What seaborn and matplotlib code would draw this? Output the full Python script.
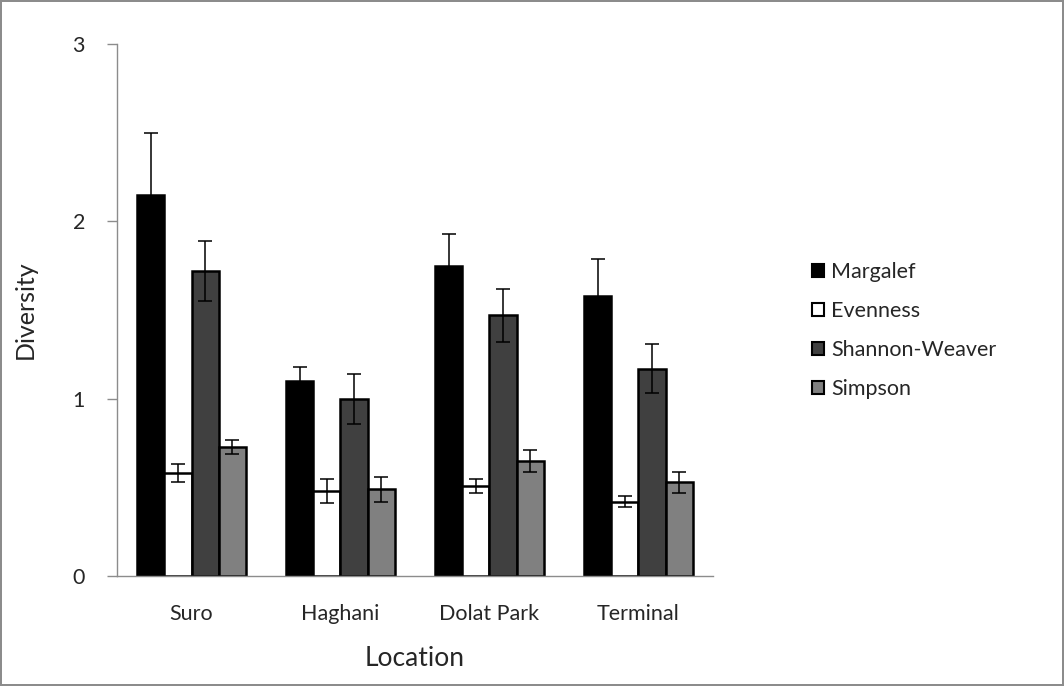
import pandas as pd
import numpy as np
import seaborn as sns
import matplotlib.pyplot as plt

locations = ['Suro', 'Haghani', 'Dolat Park', 'Terminal']
indices = ['Margalef', 'Evenness', 'Shannon-Weaver', 'Simpson']
margalef = [2.15, 1.10, 1.75, 1.58]
evenness = [0.58, 0.48, 0.51, 0.42]
shannon = [1.72, 1.00, 1.47, 1.17]
simpson = [0.73, 0.49, 0.65, 0.53]
margalef_err = [0.35, 0.08, 0.18, 0.21]
evenness_err = [0.05, 0.07, 0.04, 0.03]
shannon_err = [0.17, 0.14, 0.15, 0.14]
simpson_err = [0.04, 0.07, 0.06, 0.06]

colors = ['#000000', '#ffffff', '#404040', '#808080']

rows = []
for name, vals, errs in zip(indices, [margalef, evenness, shannon, simpson],
                            [margalef_err, evenness_err, shannon_err, simpson_err]):
    for loc, v, e in zip(locations, vals, errs):
        rows.append({'Location': loc, 'Index': name, 'Diversity': v, 'err': e})
df = pd.DataFrame(rows)

sns.set_style('white')
plt.rcParams['font.family'] = ['Lato', 'DejaVu Sans']

fig = plt.figure(figsize=(10.64, 6.86), dpi=100)
fig.patch.set_edgecolor('#8c8c8c')
fig.patch.set_linewidth(1.5)
ax = fig.add_axes([0.110, 0.160, 0.560, 0.776])

sns.barplot(data=df, x='Location', y='Diversity', hue='Index', order=locations,
            hue_order=indices, palette=colors, width=0.73, errorbar=None,
            edgecolor='black', linewidth=1.8, saturation=1, legend=False, ax=ax)

# error bars drawn by hand (seaborn only computes them from raw data)
for cont, name in zip(ax.containers, indices):
    sub = df[df['Index'] == name].set_index('Location').loc[locations]
    xs = [b.get_x() + b.get_width() / 2 for b in cont]
    ax.errorbar(xs, sub['Diversity'], yerr=sub['err'], fmt='none',
                ecolor='black', elinewidth=1.1, capsize=5, capthick=1.1)

ax.set_xlim(-0.5, 3.5)
ax.set_ylim(0, 3)
ax.set_yticks([0, 1, 2, 3])
ax.set_xticks(np.arange(-0.5, 4, 1), minor=True)
ax.tick_params(axis='x', which='major', length=0, pad=20, labelsize=15.5)
ax.tick_params(axis='x', which='minor', length=7, color='#8c8c8c', width=1)
ax.tick_params(axis='y', length=7, color='#8c8c8c', width=1, pad=16, labelsize=15.5, left=True)
for s in ['top', 'right']:
    ax.spines[s].set_visible(False)
for s in ['left', 'bottom']:
    ax.spines[s].set_color('#8c8c8c')
    ax.spines[s].set_linewidth(1)

ax.set_xlabel('Location', fontsize=19, labelpad=16)
ax.set_ylabel('Diversity', fontsize=18, labelpad=26)

handles = [plt.Rectangle((0, 0), 1, 1, facecolor=c, edgecolor='black', linewidth=1.5)
           for c in colors]
fig.legend(handles, indices, loc='center left', bbox_to_anchor=(0.745, 0.518),
           frameon=False, fontsize=15.5, handlelength=0.55, handleheight=0.55,
           handletextpad=0.35, labelspacing=0.88)

fig.savefig('out.png', dpi=100, edgecolor=fig.get_edgecolor())
